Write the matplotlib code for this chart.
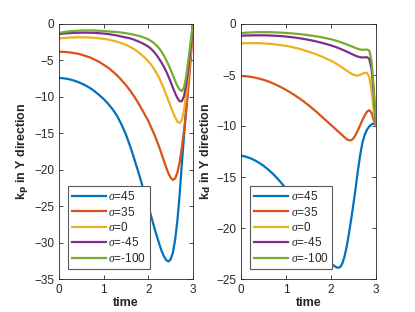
import matplotlib
matplotlib.use("Agg")
import matplotlib.pyplot as plt

plt.rcParams['font.family'] = ['Liberation Sans', 'DejaVu Sans']
plt.rcParams['mathtext.fontset'] = 'custom'
plt.rcParams['mathtext.it'] = 'Liberation Serif:italic'

t = [0.0, 0.1, 0.2, 0.3, 0.4, 0.5, 0.6, 0.7, 0.8, 0.9, 1.0, 1.1, 1.2, 1.3, 1.4, 1.5, 1.6, 1.7, 1.8, 1.9,
     2.0, 2.05, 2.1, 2.15, 2.2, 2.25, 2.3, 2.35, 2.4, 2.45, 2.5, 2.55, 2.6, 2.65, 2.7, 2.75, 2.8, 2.85,
     2.9, 2.95, 3.0]

labels = [r'$\sigma$=45', r'$\sigma$=35', r'$\sigma$=0', r'$\sigma$=-45', r'$\sigma$=-100']
colors = ['#0072BD', '#D95319', '#EDB120', '#7E2F8E', '#77AC30']

# k_p in Y direction
kp_s45 = [-7.4, -7.45, -7.55, -7.7, -7.9, -8.15, -8.45, -8.8, -9.25, -9.75, -10.3, -10.95, -11.7, -12.6,
          -13.8, -15.2, -16.9, -18.8, -20.8, -22.9, -25.0, -26.1, -27.2, -28.3, -29.3, -30.3, -31.2,
          -31.9, -32.4, -32.6, -32.3, -31.4, -29.6, -27.0, -23.5, -19.2, -15.3, -11.5, -7.8, -3.9, 0.0]
kp_s35 = [-3.8, -3.82, -3.87, -3.95, -4.05, -4.2, -4.4, -4.6, -4.9, -5.2, -5.6, -6.0, -6.5, -7.05,
          -7.7, -8.4, -9.2, -10.1, -11.1, -12.2, -13.3, -14.0, -14.7, -15.4, -16.2, -17.0, -17.9,
          -18.8, -19.7, -20.5, -21.1, -21.4, -21.2, -20.4, -19.0, -17.0, -14.5, -11.7, -8.5, -4.8, 0.0]
kp_s0 = [-2.0, -1.93, -1.88, -1.85, -1.83, -1.82, -1.83, -1.86, -1.9, -1.96, -2.04, -2.14, -2.27, -2.43,
         -2.63, -2.87, -3.17, -3.53, -3.97, -4.5, -5.1, -5.5, -5.9, -6.4, -6.9, -7.5, -8.2,
         -8.9, -9.7, -10.5, -11.3, -12.1, -12.8, -13.4, -13.6, -13.2, -11.8, -9.6, -6.9, -3.7, 0.0]
kp_sm45 = [-1.4, -1.32, -1.26, -1.22, -1.2, -1.19, -1.19, -1.2, -1.22, -1.26, -1.31, -1.38, -1.47, -1.58,
           -1.72, -1.85, -1.98, -2.2, -2.45, -2.75, -3.1, -3.35, -3.65, -4.0, -4.4, -4.85, -5.35,
           -5.9, -6.5, -7.2, -7.95, -8.75, -9.5, -10.15, -10.6, -10.6, -9.9, -8.2, -5.9, -3.1, 0.0]
kp_sm100 = [-1.25, -1.12, -1.03, -0.97, -0.93, -0.9, -0.89, -0.89, -0.9, -0.93, -0.97, -1.02, -1.06, -1.1,
            -1.18, -1.27, -1.37, -1.5, -1.65, -1.85, -2.1, -2.3, -2.5, -2.75, -3.05, -3.4, -3.85,
            -4.35, -4.95, -5.6, -6.3, -7.05, -7.8, -8.5, -9.0, -9.2, -8.7, -7.1, -4.8, -2.3, 0.0]

# k_d in Y direction
kd_s45 = [-12.9, -13.0, -13.15, -13.35, -13.6, -13.9, -14.25, -14.65, -15.1, -15.6, -16.15, -16.75, -17.4,
          -18.1, -18.85, -19.6, -20.4, -21.2, -22.0, -22.75, -23.4, -23.65, -23.8, -23.9, -23.85, -23.5,
          -22.8, -21.8, -20.5, -19.1, -17.6, -16.0, -14.3, -12.8, -11.6, -10.85, -10.35, -10.05, -9.85,
          -9.75, -9.9]
kd_s35 = [-5.1, -5.12, -5.17, -5.25, -5.35, -5.47, -5.62, -5.8, -6.0, -6.22, -6.46, -6.72, -7.0, -7.3,
          -7.62, -7.96, -8.32, -8.7, -9.1, -9.5, -9.9, -10.1, -10.3, -10.5, -10.7, -10.9, -11.1,
          -11.3, -11.4, -11.4, -11.2, -10.85, -10.4, -9.9, -9.4, -8.95, -8.6, -8.45, -8.7, -9.4, -9.9]
kd_s0 = [-1.9, -1.88, -1.87, -1.87, -1.88, -1.9, -1.93, -1.97, -2.02, -2.08, -2.15, -2.23, -2.33, -2.44,
         -2.57, -2.71, -2.86, -3.02, -3.2, -3.4, -3.6, -3.72, -3.85, -3.98, -4.12, -4.27, -4.42,
         -4.57, -4.72, -4.86, -4.97, -5.04, -5.05, -4.98, -4.87, -4.78, -4.8, -5.2, -6.5, -8.5, -10.0]
kd_sm45 = [-1.15, -1.13, -1.12, -1.11, -1.11, -1.11, -1.12, -1.14, -1.16, -1.19, -1.23, -1.28, -1.33, -1.4,
           -1.47, -1.55, -1.64, -1.74, -1.85, -1.97, -2.1, -2.17, -2.25, -2.33, -2.42, -2.51, -2.61,
           -2.71, -2.81, -2.92, -3.02, -3.12, -3.2, -3.26, -3.28, -3.27, -3.26, -3.4, -4.4, -6.8, -10.0]
kd_sm100 = [-0.9, -0.86, -0.83, -0.81, -0.8, -0.8, -0.8, -0.81, -0.83, -0.85, -0.88, -0.91, -0.95, -0.99,
            -1.04, -1.1, -1.16, -1.23, -1.31, -1.4, -1.5, -1.56, -1.62, -1.69, -1.76, -1.84, -1.92,
            -2.0, -2.09, -2.18, -2.27, -2.36, -2.44, -2.5, -2.53, -2.52, -2.5, -2.6, -3.6, -6.3, -10.0]

kp_series = [kp_s45, kp_s35, kp_s0, kp_sm45, kp_sm100]
kd_series = [kd_s45, kd_s35, kd_s0, kd_sm45, kd_sm100]

fig = plt.figure(figsize=(4.15, 3.12), dpi=100)
ax1 = fig.add_axes([59/415, 1-279/312, 134/415, 255/312])
ax2 = fig.add_axes([241/415, 1-279/312, 135/415, 255/312])

axc = '#262626'
for ax, series, ylim, yticks, ylab in [
        (ax1, kp_series, (-35, 0), range(-35, 1, 5), r'k$_\mathbf{p}$ in Y direction'),
        (ax2, kd_series, (-25, 0), range(-25, 1, 5), r'k$_\mathbf{d}$ in Y direction')]:
    for ys, c, lab in zip(series, colors, labels):
        ax.plot(t, ys, color=c, lw=1.6, label=lab, solid_joinstyle='round')
    ax.set_xlim(0, 3)
    ax.set_ylim(*ylim)
    ax.set_xticks([0, 1, 2, 3])
    ax.set_yticks(list(yticks))
    ax.tick_params(direction='in', top=True, right=True, labelsize=8.5,
                   colors=axc, length=3, width=0.6)
    for s in ax.spines.values():
        s.set_color(axc)
        s.set_linewidth(0.6)
    ax.set_xlabel('time', fontsize=9, fontweight='bold', color=axc, labelpad=1)
    ax.set_ylabel(ylab, fontsize=9, fontweight='bold', color=axc, labelpad=2)
    leg = ax.legend(loc='lower left', bbox_to_anchor=(0.065, 0.04), borderaxespad=0,
                    fontsize=8.5, handlelength=2.9, handletextpad=0.2, labelspacing=0.2,
                    borderpad=0.35, fancybox=False, framealpha=1, edgecolor='#5a5a5a')
    leg.get_frame().set_linewidth(0.8)
    for txt in leg.get_texts():
        txt.set_color(axc)

fig.savefig('out.png', dpi=100)
